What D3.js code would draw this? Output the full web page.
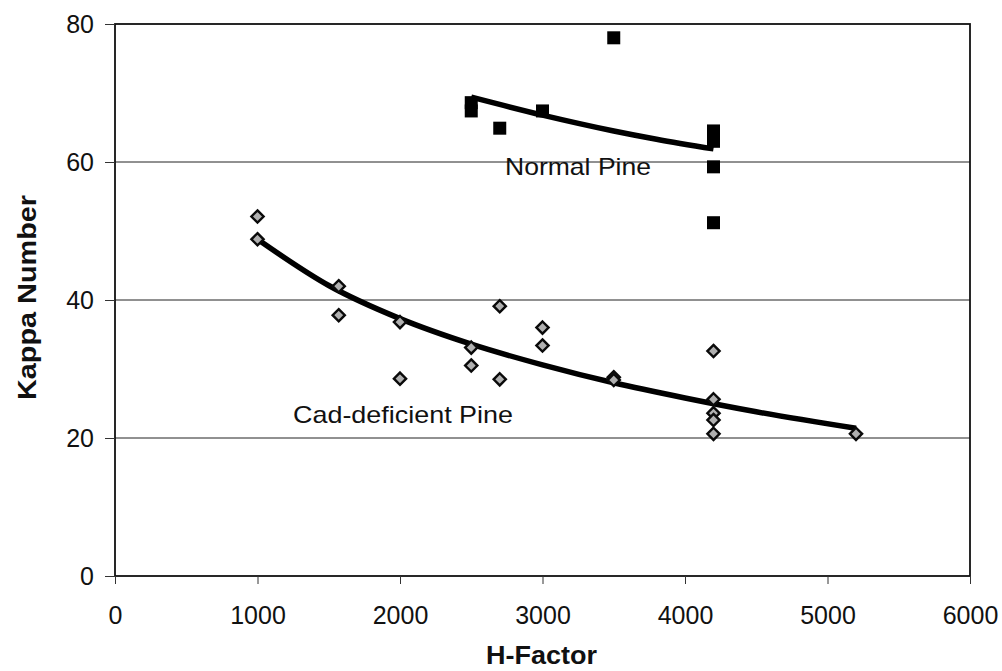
<!DOCTYPE html>
<html>
<head>
<meta charset="utf-8">
<script src="https://cdn.jsdelivr.net/npm/d3@7"></script>
<style>
  body { margin: 0; background: #fff; }
  text { font-family: "Liberation Sans", Arial, sans-serif; fill: #111; }
</style>
</head>
<body>
<div id="chart"></div>
<script>
var xTicks = [0, 1000, 2000, 3000, 4000, 5000, 6000]
var yTicks = [0, 20, 40, 60, 80]

// Normal pine measurements
var normalX = [2500, 2500, 2700, 3000, 3500, 4200, 4200, 4200, 4200]
var normalY = [68.6, 67.4, 64.9, 67.4, 78.0, 64.5, 63.0, 59.3, 51.2]

// Cad-deficient pine measurements
var cadX = [1000, 1000, 1570, 1570, 2000, 2000, 2500, 2500, 2700, 2700, 3000, 3000, 3500, 3500, 4200, 4200, 4200, 4200, 4200, 5200]
var cadY = [52.1, 48.8, 42.0, 37.8, 36.8, 28.6, 33.1, 30.5, 39.1, 28.5, 36.0, 33.4, 28.8, 28.4, 32.6, 25.6, 23.6, 22.6, 20.6, 20.6]

// trend lines
var normalTrendX = [2500, 3000, 3500, 3800, 4200]
var normalTrendY = [69.4, 66.8, 64.5, 63.3, 61.9]
var cadTrendX = [1000, 1500, 2000, 2500, 3000, 3500, 4000, 4500, 5200]
var cadTrendY = [48.8, 42.1, 37.3, 33.6, 30.6, 28.0, 25.8, 23.8, 21.4]

var width = 1002, height = 671
var margin = {left: 115, right: 32, top: 24, bottom: 95}
var w = width - margin.left - margin.right,
    h = height - margin.top - margin.bottom

var svg = d3.select('#chart')
  .append('svg')
    .attr('width', width)
    .attr('height', height)

var g = svg.append('g')
    .attr('transform', 'translate(' + margin.left + ',' + margin.top + ')')

var x = d3.scaleLinear().domain([0, 6000]).range([0, w])
var y = d3.scaleLinear().domain([0, 80]).range([h, 0])

// grid
g.selectAll('.grid')
    .data(yTicks.filter(function(d){ return d > 0 && d < 80 }))
  .enter().append('line')
    .attr('x1', 0).attr('x2', w)
    .attr('y1', y).attr('y2', y)
    .attr('stroke', '#222')
    .attr('stroke-width', 1)

// plot frame
g.append('rect')
    .attr('width', w).attr('height', h)
    .attr('fill', 'none')
    .attr('stroke', '#111')
    .attr('stroke-width', 1.8)

var xAxis = g.append('g')
    .attr('transform', 'translate(0,' + h + ')')
    .call(d3.axisBottom(x).tickValues(xTicks).tickSize(8).tickPadding(22).tickFormat(d3.format('d')))
var yAxis = g.append('g')
    .call(d3.axisLeft(y).tickValues(yTicks).tickSize(10).tickPadding(11))

;[xAxis, yAxis].forEach(function(a){
  a.select('.domain').remove()
  a.selectAll('line').attr('stroke', '#333')
  a.selectAll('text')
      .style('font-family', '"Liberation Sans", Arial, sans-serif')
      .style('font-size', '25px')
      .attr('fill', '#111')
})
yAxis.selectAll('text').attr('dy', '0.35em')

// trend lines
var line = d3.line()
    .x(function(d){ return x(d[0]) })
    .y(function(d){ return y(d[1]) })
    .curve(d3.curveMonotoneX)

g.append('path')
    .datum(d3.zip(cadTrendX, cadTrendY))
    .attr('d', line)
    .attr('fill', 'none')
    .attr('stroke', '#000')
    .attr('stroke-width', 5.5)
g.append('path')
    .datum(d3.zip(normalTrendX, normalTrendY))
    .attr('d', line)
    .attr('fill', 'none')
    .attr('stroke', '#000')
    .attr('stroke-width', 5.5)

// normal pine squares
g.selectAll('.sq')
    .data(d3.zip(normalX, normalY))
  .enter().append('rect')
    .attr('x', function(d){ return x(d[0]) - 6.5 })
    .attr('y', function(d){ return y(d[1]) - 6.5 })
    .attr('width', 13).attr('height', 13)
    .attr('fill', '#000')

// cad-deficient diamonds
g.selectAll('.dm')
    .data(d3.zip(cadX, cadY))
  .enter().append('path')
    .attr('d', d3.symbol(d3.symbolDiamond2, 95))
    .attr('transform', function(d){ return 'translate(' + x(d[0]) + ',' + y(d[1]) + ')' })
    .attr('fill', '#b0b0b0')
    .attr('stroke', '#0a0a0a')
    .attr('stroke-width', 2.4)

// labels
svg.append('text')
    .attr('x', 505).attr('y', 175)
    .attr('textLength', 146).attr('lengthAdjust', 'spacingAndGlyphs')
    .style('font-size', '24px')
    .text('Normal Pine')
svg.append('text')
    .attr('x', 293).attr('y', 423)
    .attr('textLength', 220).attr('lengthAdjust', 'spacingAndGlyphs')
    .style('font-size', '24px')
    .text('Cad-deficient Pine')

svg.append('text')
    .attr('x', 486).attr('y', 664)
    .attr('textLength', 111).attr('lengthAdjust', 'spacingAndGlyphs')
    .style('font-size', '26px')
    .style('font-weight', 'bold')
    .text('H-Factor')
svg.append('text')
    .attr('transform', 'translate(36,400) rotate(-90)')
    .attr('textLength', 205).attr('lengthAdjust', 'spacingAndGlyphs')
    .style('font-size', '25px')
    .style('font-weight', 'bold')
    .text('Kappa Number')
</script>
</body>
</html>
